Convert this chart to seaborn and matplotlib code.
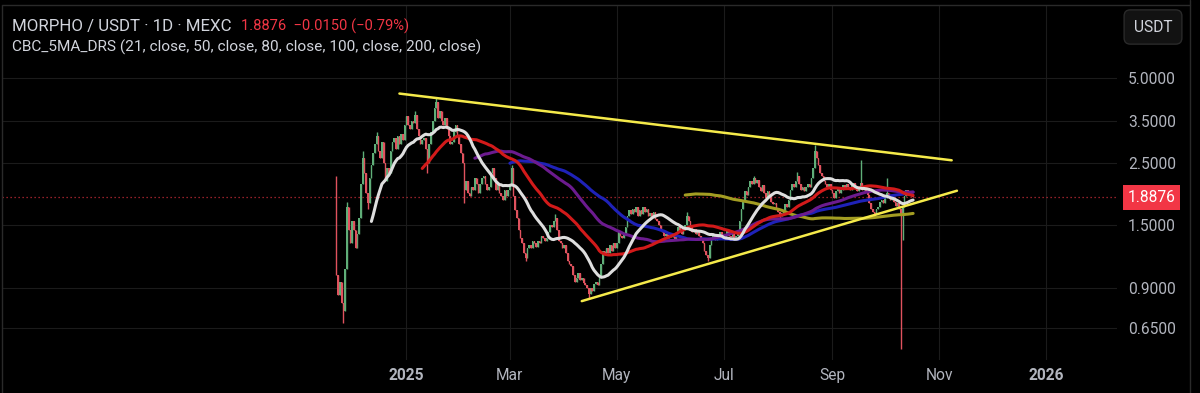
import pandas as pd
import seaborn as sns
import matplotlib.pyplot as plt
import matplotlib.dates as mdates
from matplotlib.lines import Line2D
from matplotlib.transforms import blended_transform_factory

# daily closes MORPHO/USDT (22 Nov 2024 -> 17 Oct 2025)
start_date = '2024-11-22'
first_open = 2.20
close_nov = [1.00, 0.85, 0.95, 0.80, 0.75, 1.05, 1.75, 1.45, 1.30]
close_dec = [1.55, 1.45, 1.25, 1.40, 1.60, 2.10, 2.60, 2.30, 1.95, 1.80,
             2.20, 2.45, 2.70, 2.90, 3.10, 2.75, 2.60, 2.95, 2.50, 2.15,
             2.40, 2.30, 2.75, 2.95, 3.05, 2.80, 3.10, 2.90, 3.15, 3.00,
             3.40]
close_jan = [3.65, 3.40, 3.30, 3.50, 3.45, 3.70, 3.30, 3.10, 2.90, 3.00,
             3.05, 2.80, 2.50, 2.90, 3.20, 3.50, 3.90, 4.10, 3.60, 3.80,
             3.50, 3.40, 3.60, 3.30, 3.10, 2.90, 2.95, 3.20, 3.40, 3.10,
             2.90]
close_feb = [2.70, 2.50, 2.00, 2.15, 1.95, 1.90, 2.05, 2.00, 2.20, 2.10,
             1.95, 2.10, 2.20, 2.25, 2.10, 2.00, 2.05, 2.30, 2.40, 2.20,
             2.00, 2.10, 1.95, 1.90, 1.85, 2.00, 1.90, 2.00]
close_mar = [2.10, 2.40, 1.90, 1.70, 1.60, 1.45, 1.35, 1.30, 1.20, 1.15,
             1.25, 1.28, 1.25, 1.32, 1.30, 1.26, 1.32, 1.30, 1.38, 1.35,
             1.32, 1.35, 1.42, 1.50, 1.48, 1.55, 1.60, 1.45, 1.32, 1.30,
             1.25]
close_apr = [1.28, 1.20, 1.12, 1.10, 1.08, 1.00, 0.95, 0.98, 1.02, 0.96,
             0.98, 0.94, 0.92, 0.90, 0.86, 0.90, 0.88, 0.93, 0.95, 0.92,
             0.98, 1.10, 1.22, 1.18, 1.25, 1.20, 1.28, 1.22, 1.30, 1.25]
close_may = [1.30, 1.42, 1.38, 1.35, 1.40, 1.48, 1.62, 1.70, 1.65, 1.72,
             1.68, 1.75, 1.62, 1.70, 1.65, 1.75, 1.68, 1.72, 1.62, 1.66,
             1.60, 1.68, 1.58, 1.55, 1.50, 1.45, 1.42, 1.38, 1.40, 1.35,
             1.38]
close_jun = [1.36, 1.40, 1.34, 1.42, 1.48, 1.45, 1.40, 1.44, 1.50, 1.62,
             1.55, 1.48, 1.42, 1.46, 1.40, 1.44, 1.38, 1.35, 1.30, 1.22,
             1.18, 1.15, 1.28, 1.35, 1.38, 1.33, 1.40, 1.36, 1.42, 1.38]
close_jul = [1.35, 1.40, 1.43, 1.38, 1.36, 1.40, 1.35, 1.38, 1.42, 1.55,
             1.72, 1.85, 1.98, 1.92, 2.05, 2.15, 2.10, 2.20, 2.12, 2.18,
             2.05, 1.98, 2.08, 1.95, 1.88, 1.98, 1.92, 1.82, 1.78, 1.80,
             1.72]
close_aug = [1.68, 1.62, 1.66, 1.70, 1.78, 1.75, 1.85, 2.00, 2.10, 2.05,
             2.15, 2.25, 2.10, 2.00, 2.05, 1.98, 2.05, 2.10, 2.05, 2.20,
             2.40, 2.75, 2.60, 2.45, 2.30, 2.25, 2.15, 2.10, 2.05, 2.10,
             2.00]
close_sep = [1.95, 1.88, 1.98, 2.05, 1.95, 2.00, 2.08, 2.02, 2.10, 2.05,
             2.00, 2.08, 2.12, 2.02, 1.98, 2.05, 2.12, 2.00, 2.05, 1.98,
             1.92, 1.80, 1.72, 1.68, 1.65, 1.72, 1.75, 1.82, 1.85, 1.80]
close_oct = [1.88, 1.95, 1.90, 1.85, 1.88, 1.82, 1.76, 1.80, 1.72, 1.62,
             1.75, 1.90, 2.00, 1.92, 1.98, 1.9026, 1.8876]

# long wicks that stick out of the bodies
high_dates = ['2024-11-22', '2024-11-28', '2024-12-07', '2024-12-15', '2025-01-06',
              '2025-01-18', '2025-03-02', '2025-03-27', '2025-06-10', '2025-07-18',
              '2025-08-12', '2025-08-22', '2025-09-17', '2025-10-02']
high_vals = [2.25, 1.82, 2.75, 3.20, 3.80, 4.22, 2.45, 1.65, 1.68, 2.25,
             2.32, 2.88, 2.55, 2.20]
low_dates = ['2024-11-26', '2024-12-10', '2025-01-13', '2025-02-03', '2025-03-10',
             '2025-04-15', '2025-06-22', '2025-08-02', '2025-09-25', '2025-10-10',
             '2025-10-11']
low_vals = [0.68, 1.72, 2.30, 1.80, 1.12, 0.83, 1.12, 1.58, 1.62, 0.55, 1.33]

ma_windows = [200, 100, 80, 50, 21]
ma_colors = ['#a39d22', '#1f22b8', '#6c1b8f', '#d21a1a', '#dedede']

# hand drawn trendlines (start, end)
upper_dates = ['2024-12-28', '2025-11-08']
upper_prices = [4.39, 2.55]
lower_dates = ['2025-04-11', '2025-11-11']
lower_prices = [0.81, 1.99]

tick_prices = [0.65, 0.9, 1.5, 2.5, 3.5, 5.0]
month_ticks = ['2025-01-01', '2025-03-01', '2025-05-01', '2025-07-01',
               '2025-09-01', '2025-11-01', '2026-01-01']
month_labels = ['2025', 'Mar', 'May', 'Jul', 'Sep', 'Nov', '2026']

last_price = 1.8876
change_txt = '1.8876  \u22120.0150 (\u22120.79%)'

# ---- data frame
closes = (close_nov + close_dec + close_jan + close_feb + close_mar + close_apr
          + close_may + close_jun + close_jul + close_aug + close_sep + close_oct)
df = pd.DataFrame({'date': pd.date_range(start_date, periods=len(closes), freq='D'),
                   'close': closes})
df['open'] = df['close'].shift(1).fillna(first_open)
df['high'] = df[['open', 'close']].max(axis=1)
df['low'] = df[['open', 'close']].min(axis=1)
for d, v in zip(high_dates, high_vals):
    df.loc[df['date'] == d, 'high'] = v
for d, v in zip(low_dates, low_vals):
    df.loc[df['date'] == d, 'low'] = v
df['x'] = mdates.date2num(df['date'])

# ---- style
bg = '#000000'
txt = '#b2b5be'
sns.set_theme(style='dark', rc={'figure.facecolor': bg, 'axes.facecolor': bg,
                                'savefig.facecolor': bg})
plt.rcParams['font.family'] = ['Roboto', 'DejaVu Sans']

fig = plt.figure(figsize=(12, 3.93), dpi=100)
ax = fig.add_axes([2 / 1200, 1 - 360 / 393, 1115 / 1200, 355 / 393])
ax.set_yscale('log')

# candles
up = df['close'] >= df['open']
for mask, col in [(up, '#5fae78'), (~up, '#e0525e')]:
    sub = df[mask]
    ax.vlines(sub['x'], sub['low'], sub['high'], color=col, lw=1.0, zorder=2)
    ax.bar(sub['x'], (sub['close'] - sub['open']).abs(),
           bottom=sub[['open', 'close']].min(axis=1), width=0.9,
           color=col, linewidth=0, zorder=2)

# moving averages
for i, (w, col) in enumerate(zip(ma_windows, ma_colors)):
    ma = df['close'].rolling(w).mean()
    sns.lineplot(x=df['x'], y=ma, color=col, lw=2.2, ax=ax, zorder=3 + i * 0.1)

# trendlines
for dts, prs in [(upper_dates, upper_prices), (lower_dates, lower_prices)]:
    sns.lineplot(x=mdates.date2num(pd.to_datetime(dts)), y=prs,
                 color='#f5ea4a', lw=1.8, ax=ax, zorder=4)

ax.axhline(last_price, color='#f23645', lw=0.9, ls=(0, (1, 2.2)), alpha=0.8, zorder=1)

# axes
d0 = mdates.date2num(pd.Timestamp('2025-01-01'))
ax.set_xlim(d0 - 230.7, d0 + 405.3)
ax.set_ylim(0.5015, 9.03)
ax.set_xticks(mdates.date2num(pd.to_datetime(month_ticks)))
ax.set_xticklabels(month_labels)
for lab in ax.get_xticklabels():
    if lab.get_text() in ('2025', '2026'):
        lab.set_fontweight('bold')
ax.yaxis.tick_right()
ax.set_yticks(tick_prices)
ax.set_yticklabels(['%.4f' % p for p in tick_prices])
ax.yaxis.set_minor_locator(plt.NullLocator())
ax.tick_params(axis='both', colors=txt, labelsize=11.2, length=0)
ax.tick_params(axis='x', pad=6)
ax.tick_params(axis='y', pad=8)
ax.grid(True, color='#1b1b1b', lw=0.8)
ax.set_xlabel('')
ax.set_ylabel('')
for s in ax.spines.values():
    s.set_visible(False)

# last price tag on the scale
tr = blended_transform_factory(ax.transAxes, ax.transData)
ax.text(1.0095, last_price, '%.4f' % last_price, transform=tr, ha='left', va='center',
        color='white', fontsize=11.2, clip_on=False,
        bbox=dict(boxstyle='square,pad=0.32', fc='#f23645', ec='none'))

# header
t1 = fig.text(12 / 1200, 1 - 26 / 393, 'MORPHO / USDT \u00b7 1D \u00b7 MEXC',
              color='#d1d4dc', fontsize=12.2, va='center')
ax.annotate(change_txt, xy=(1, 0.5), xycoords=t1, xytext=(7, 0),
            textcoords='offset points', color='#f23645', fontsize=10.6, va='center')
fig.text(12 / 1200, 1 - 47 / 393,
         'CBC_5MA_DRS (21, close, 50, close, 80, close, 100, close, 200, close)',
         color='#d1d4dc', fontsize=11.1, va='center')
fig.text(1153 / 1200, 1 - 27 / 393, 'USDT', color='#d1d4dc', fontsize=11.2,
         ha='center', va='center',
         bbox=dict(boxstyle='round,pad=0.62,rounding_size=0.4', fc='#121212', ec='#2a2a2a'))

# pane borders
for xs, ys in [([2, 1190], [5, 5]), ([2, 2], [5, 393]), ([1190, 1190], [0, 393])]:
    fig.add_artist(Line2D([v / 1200 for v in xs], [1 - v / 393 for v in ys],
                          color='#2a2a2a', lw=1))

fig.savefig('out.png', dpi=100)
